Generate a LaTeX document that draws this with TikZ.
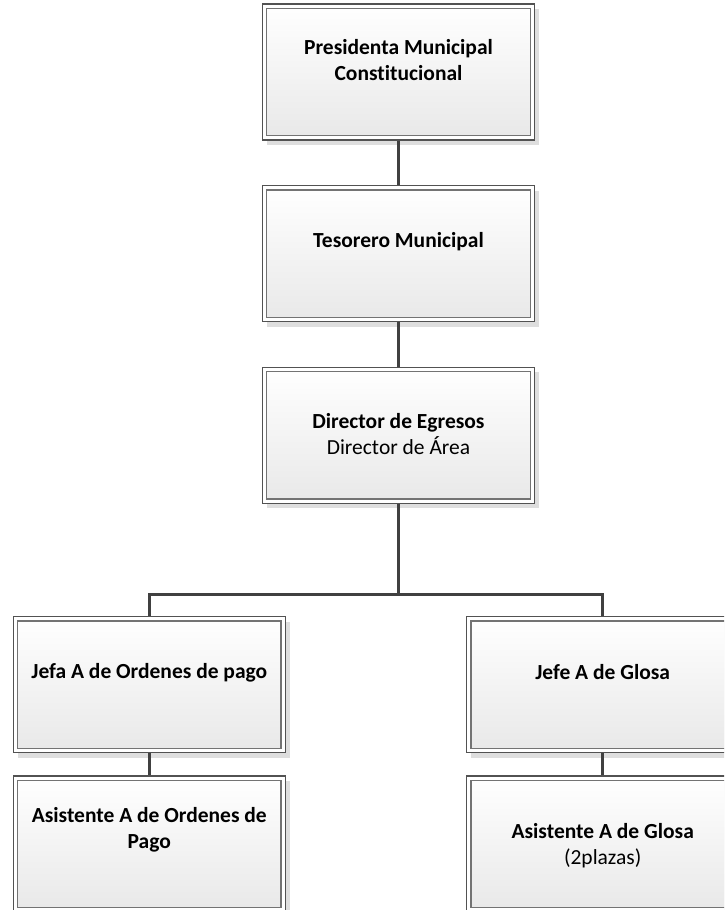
\documentclass[tikz,border=0pt]{standalone}
\usepackage{fontspec}
\setmainfont{Carlito}[Ligatures=NoCommon]
\usetikzlibrary{shadows}
\begin{document}
\begin{tikzpicture}[x=1pt,y=-1pt,
  orgbox/.style={rectangle, minimum width=272pt, minimum height=136pt, inner sep=0pt,
    draw=black!68, line width=1.1pt, fill=white,
    general shadow={fill=black!13, shadow xshift=4.5pt, shadow yshift=-5pt},
    path picture={\draw[line width=1.3pt, draw=black!55, top color=white, bottom color=black!9]
      ([shift={(4.3pt,-4.3pt)}]path picture bounding box.north west) rectangle
      ([shift={(-4.3pt,4.3pt)}]path picture bounding box.south east);}},
  lbl/.style={font=\fontsize{21.5}{26}\selectfont\bfseries, align=center, anchor=base, inner sep=0pt},
  conn/.style={draw=black!75, line width=2.5pt}]
\clip (0,0) rectangle (724,910);
\node[orgbox] (b1) at (398.5,72) {};
\node[lbl] (t1) at (398.5,80) {Presidenta Municipal\\Constitucional};
\node[orgbox] (b2) at (398.5,253.7) {};
\node[lbl] (t2) at (398.5,247.3) {Tesorero Municipal};
\node[orgbox] (b3) at (398.5,435.3) {};
\node[lbl] (t3) at (398.5,454.3) {Director de Egresos\\{\mdseries Director de Área}};
\node[orgbox] (j1) at (149.3,684.7) {};
\node[lbl] (t4) at (149.3,678.3) {Jefa A de Ordenes de pago};
\node[orgbox] (j2) at (602.7,684.7) {};
\node[lbl] (t5) at (602.7,679) {Jefe A de Glosa};
\node[orgbox] (a1) at (149.3,844) {};
\node[lbl] (t6) at (149.3,848.3) {Asistente A de Ordenes de\\Pago};
\node[orgbox] (a2) at (602.7,844) {};
\node[lbl] (t7) at (602.7,864) {Asistente A de Glosa\\{\mdseries (2plazas)}};
\coordinate (bus) at (398.5,594.5);
\draw[conn] (b1.south) -- (b2.north);
\draw[conn] (b2.south) -- (b3.north);
\draw[conn] (b3.south) -- (bus);
\draw[conn] (j1.north) |- (bus) -| (j2.north);
\draw[conn] (j1.south) -- (a1.north);
\draw[conn] (j2.south) -- (a2.north);
\end{tikzpicture}
\end{document}
